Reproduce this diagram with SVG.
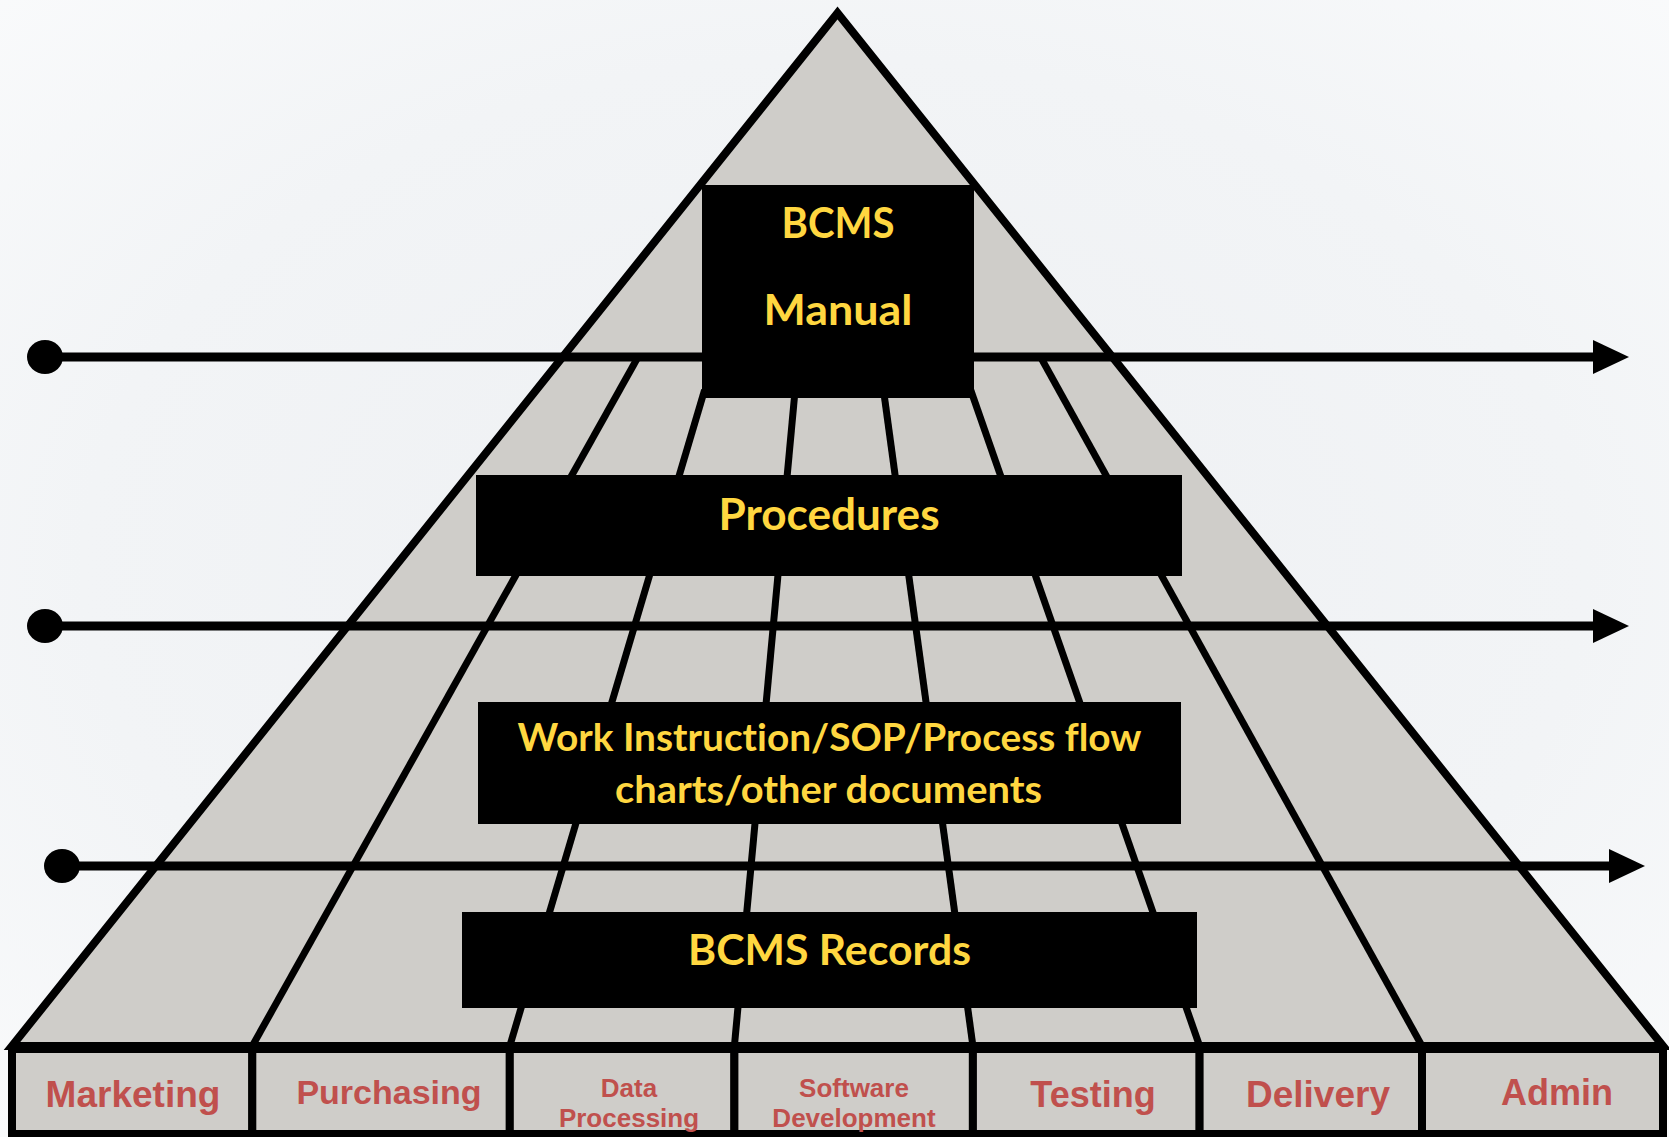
<svg xmlns="http://www.w3.org/2000/svg" width="1669" height="1137" viewBox="0 0 1669 1137">
  <defs>
    <radialGradient id="bg" cx="0.5" cy="0.5" r="0.75">
      <stop offset="0" stop-color="#EEF0F3"/>
      <stop offset="0.6" stop-color="#F2F4F6"/>
      <stop offset="1" stop-color="#FAFBFC"/>
    </radialGradient>
    <marker id="arrow" markerUnits="userSpaceOnUse" markerWidth="40" markerHeight="36" viewBox="0 0 40 36" refX="2" refY="17" orient="auto">
      <path d="M0,0 L36,17 L0,34 Z" fill="#000"/>
    </marker>
    <marker id="dot" markerUnits="userSpaceOnUse" markerWidth="40" markerHeight="38" viewBox="0 0 40 38" refX="20" refY="19" orient="auto">
      <ellipse cx="20" cy="19" rx="18" ry="17" fill="#000"/>
    </marker>
  </defs>
  <style>
    .pyr { fill: #CFCDC9; stroke: #000; stroke-width: 8; stroke-linejoin: miter; }
    .grid { stroke: #000; stroke-width: 7; fill: none; }
    .flow { stroke: #000; stroke-width: 9; fill: none; marker-start: url(#dot); marker-end: url(#arrow); }
    .doc { fill: #000; }
    .doctext { font-family: Lato, "Open Sans", "Liberation Sans", sans-serif; font-weight: bold; fill: #FFD740; text-anchor: middle; font-variant-ligatures: none; font-feature-settings: "liga" 0, "clig" 0; }
    .dept { fill: #CFCDC9; stroke: #000; stroke-width: 8; }
    .depttext { font-family: "Liberation Sans", Arial, sans-serif; font-weight: bold; fill: #C0504D; text-anchor: middle; }
  </style>

  <rect x="0" y="0" width="1669" height="1137" fill="url(#bg)"/>

  <g id="pyramid">
    <polygon class="pyr" points="837.5,13 12,1046 1663,1046"/>
  </g>

  <g id="connectors">
    <line class="grid" x1="252.3" y1="1046" x2="638.6" y2="356"/>
    <line class="grid" x1="509.8" y1="1046" x2="704.6" y2="390"/>
    <line class="grid" x1="734.4" y1="1046" x2="795.1" y2="390"/>
    <line class="grid" x1="972.9" y1="1046" x2="883.5" y2="390"/>
    <line class="grid" x1="1199.6" y1="1046" x2="970.7" y2="390"/>
    <line class="grid" x1="1422" y1="1046" x2="1040" y2="356"/>
    <line class="flow" x1="45" y1="357" x2="1595" y2="357"/>
    <line class="flow" x1="45" y1="626" x2="1595" y2="626"/>
    <line class="flow" x1="62" y1="866" x2="1611" y2="866"/>
  </g>

  <g id="bcms-manual">
    <rect class="doc" x="702" y="185" width="272" height="213"/>
    <text class="doctext" x="838" y="238" font-size="42" textLength="113" lengthAdjust="spacingAndGlyphs">BCMS</text>
    <text class="doctext" x="838" y="325" font-size="42" textLength="149" lengthAdjust="spacingAndGlyphs">Manual</text>
  </g>

  <g id="procedures">
    <rect class="doc" x="476" y="475" width="706" height="101"/>
    <text class="doctext" x="829" y="530" font-size="43" textLength="221" lengthAdjust="spacingAndGlyphs">Procedures</text>
  </g>

  <g id="work-instructions">
    <rect class="doc" x="478" y="702" width="703" height="122"/>
    <text class="doctext" x="829.5" y="751" font-size="38" textLength="624" lengthAdjust="spacingAndGlyphs">Work Instruction/SOP/Process flow</text>
    <text class="doctext" x="828.5" y="803" font-size="38" textLength="427" lengthAdjust="spacingAndGlyphs">charts/other documents</text>
  </g>

  <g id="bcms-records">
    <rect class="doc" x="462" y="912" width="735" height="96"/>
    <text class="doctext" x="829.5" y="965" font-size="42" textLength="283" lengthAdjust="spacingAndGlyphs">BCMS Records</text>
  </g>

  <g id="marketing">
    <rect class="dept" x="12" y="1049" width="240.3" height="85"/>
    <text class="depttext" x="133" y="1107" font-size="37">Marketing</text>
  </g>
  <g id="purchasing">
    <rect class="dept" x="252.3" y="1049" width="257.5" height="85"/>
    <text class="depttext" x="389" y="1104" font-size="34">Purchasing</text>
  </g>
  <g id="data-processing">
    <rect class="dept" x="509.8" y="1049" width="224.6" height="85"/>
    <text class="depttext" x="629" y="1097" font-size="26">Data</text>
    <text class="depttext" x="629" y="1127" font-size="26">Processing</text>
  </g>
  <g id="software-development">
    <rect class="dept" x="734.4" y="1049" width="238.5" height="85"/>
    <text class="depttext" x="854" y="1097" font-size="26">Software</text>
    <text class="depttext" x="854" y="1127" font-size="26">Development</text>
  </g>
  <g id="testing">
    <rect class="dept" x="972.9" y="1049" width="226.7" height="85"/>
    <text class="depttext" x="1093" y="1107" font-size="36">Testing</text>
  </g>
  <g id="delivery">
    <rect class="dept" x="1199.6" y="1049" width="222.4" height="85"/>
    <text class="depttext" x="1318" y="1107" font-size="37">Delivery</text>
  </g>
  <g id="admin">
    <rect class="dept" x="1422" y="1049" width="241" height="85"/>
    <text class="depttext" x="1557" y="1105" font-size="36">Admin</text>
  </g>
</svg>
